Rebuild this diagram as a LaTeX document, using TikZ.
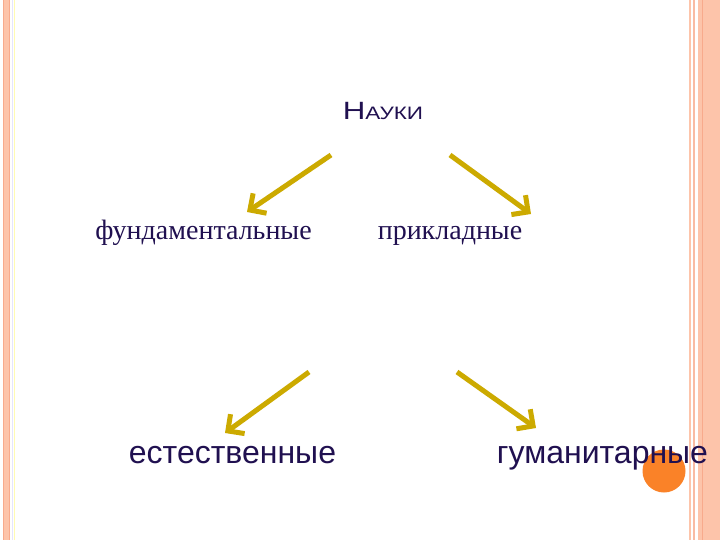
\documentclass[tikz,border=0pt]{standalone}
\usepackage{fontspec}
\setmainfont{Liberation Serif}
\setsansfont{Liberation Sans}
\usetikzlibrary{arrows.meta}
\definecolor{txt}{RGB}{32,16,80}
\definecolor{arr}{RGB}{204,170,0}
\definecolor{peach}{RGB}{253,196,170}
\definecolor{peachd}{RGB}{248,170,140}
\definecolor{dot}{RGB}{250,130,40}
\begin{document}
\begin{tikzpicture}[x=1pt,y=-1pt,
  lbl/.style={inner sep=0pt,text=txt,anchor=base},
  serif/.style={lbl,font=\fontsize{28}{28}\selectfont\rmfamily},
  sans/.style={lbl,font=\fontsize{32}{32}\selectfont\sffamily},
  link/.style={draw=arr,line width=5pt,-{Straight Barb[length=12pt,width=24pt,line width=5pt]}}]
\useasboundingbox (0,0) rectangle (720,540);
\fill[white] (0,0) rectangle (720,540);
% left border
\fill[peach] (3,0) rectangle (10,540);
\draw[peachd,line width=0.8pt] (3.4,0) -- (3.4,540) (9.6,0) -- (9.6,540);
\draw[black!8!blue!10,line width=0.6pt] (11.8,0) -- (11.8,540);
\draw[yellow!30,line width=0.6pt] (14.3,0) -- (14.3,540);
% right border
\draw[peach,line width=1.5pt] (690,0) -- (690,540);
\draw[peachd!80,line width=2.5pt] (694,0) -- (694,540);
\fill[peach] (697.7,0) rectangle (720,540);
\draw[peachd,line width=1.5pt] (702.5,0) -- (702.5,540);
% dot
\fill[dot] (664,471) circle (21.5);
% texts
\node[lbl,font=\sffamily] (nauki) at (383,120) {\scalebox{1.25}[1]{\fontsize{25}{25}\selectfont Н\fontsize{18}{18}\selectfont АУКИ}};
\node[serif] (fund) at (203.5,240) {фундаментальные};
\node[serif] (prik) at (450,240) {прикладные};
\node[sans] (est) at (232.5,463) {естественные};
\node[sans] (gum) at (602.5,463) {гуманитарные};
% arrow endpoints
\coordinate (a1s) at (331,155); \coordinate (a1e) at (247,212);
\coordinate (a2s) at (450,155); \coordinate (a2e) at (531,214);
\coordinate (a3s) at (309,372); \coordinate (a3e) at (225,433);
\coordinate (a4s) at (457,372); \coordinate (a4e) at (536,428);
\draw[link] (a1s) -- (a1e);
\draw[link] (a2s) -- (a2e);
\draw[link] (a3s) -- (a3e);
\draw[link] (a4s) -- (a4e);
\end{tikzpicture}
\end{document}
